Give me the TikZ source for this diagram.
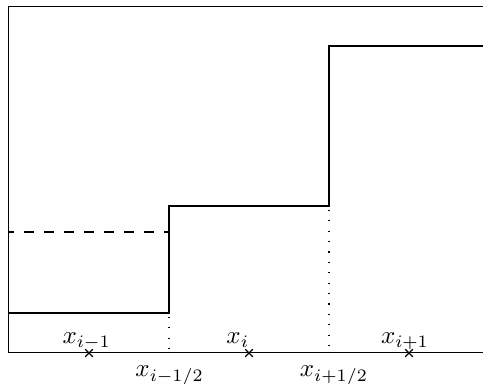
\documentclass[tikz,border=0pt]{standalone}
\usetikzlibrary{shapes.misc}
\begin{document}
\begin{tikzpicture}[x=0.4pt,y=-0.4pt,
  frame/.style={line width=0.4pt},
  stepline/.style={line width=0.6pt},
  dashline/.style={line width=0.45pt, dash pattern=on 4pt off 4pt, dash phase=2pt},
  dotline/.style={line width=0.5pt, dash pattern=on 0.5pt off 3.66pt, dash phase=-1.5pt},
  lbl/.style={inner sep=0pt, anchor=base},
  crossmark/.style={draw, cross out, minimum size=2.6pt, inner sep=0pt, line width=0.45pt}]
\useasboundingbox (0,0) rectangle (483,383);
% frame
\draw[frame] (483,6.5) -- (9,6.5) -- (9,352) -- (483,352);
% step function
\draw[stepline] (9,313) -- (169,313) -- (169,206) -- (329,206) -- (329,46) -- (483,46);
% dashed level
\draw[dashline] (169,232) -- (9,232);
% interfaces
\draw[dotline] (169,313) -- (169,352);
\draw[dotline] (329,206) -- (329,352);
% cell centres
\node[crossmark] (c1) at (89,353) {};
\node[crossmark] (c2) at (249,353) {};
\node[crossmark] (c3) at (409,353) {};
% labels
\node[lbl] (l1) at (86.7,343.3) {$x_{i-1}$};
\node[lbl] (l2) at (237.8,343.3) {$x_{i}$};
\node[lbl] (l3) at (405,343.3) {$x_{i+1}$};
\node[lbl] (h1) at (169.7,376.7) {$x_{i-1/2}$};
\node[lbl] (h2) at (334,376.7) {$x_{i+1/2}$};
\end{tikzpicture}
\end{document}
